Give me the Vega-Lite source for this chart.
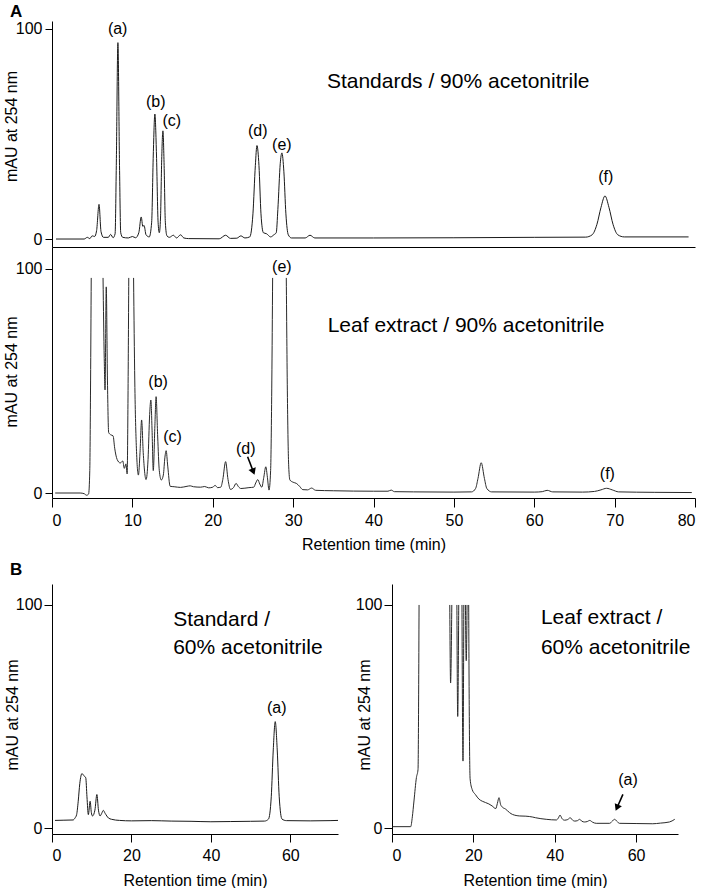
{
  "$schema": "https://vega.github.io/schema/vega-lite/v6.json",
  "background": "white",
  "padding": {"left": 3, "top": 2, "right": 0, "bottom": 0},
  "config": {
    "view": {"stroke": null},
    "font": "Liberation Sans",
    "axis": {"grid": false, "domainColor": "#000", "tickColor": "#000", "labelColor": "#000", "titleColor": "#000", "labelFontSize": 16, "titleFontSize": 16, "titleFontWeight": "normal", "labelFont": "Liberation Sans", "titleFont": "Liberation Sans", "domainWidth": 1, "tickWidth": 1},
    "text": {"font": "Liberation Sans", "color": "#000"},
    "title": {"font": "Liberation Sans", "color": "#000"}
  },
  "datasets": {
    "std90": [
      {"t":0.5,"v":0},{"t":4.0,"v":0},{"t":4.4,"v":0.8},{"t":4.7,"v":0.2},{"t":5.0,"v":1.5},{"t":5.3,"v":1.2},{"t":5.55,"v":4},{"t":5.85,"v":16.5},{"t":6.1,"v":3.5},{"t":6.4,"v":0.8},{"t":7.0,"v":0.8},{"t":7.3,"v":2.2},{"t":7.6,"v":0.6},{"t":7.85,"v":2.5},{"t":8.0,"v":35},{"t":8.2,"v":93.5},{"t":8.4,"v":35},{"t":8.55,"v":3},{"t":8.8,"v":0.8},{"t":9.5,"v":0.5},{"t":10.0,"v":1.2},{"t":10.4,"v":0.6},{"t":10.8,"v":3},{"t":11.1,"v":10.5},{"t":11.3,"v":6},{"t":11.45,"v":6.5},{"t":11.7,"v":2},{"t":12.1,"v":1},{"t":12.4,"v":8},{"t":12.6,"v":40},{"t":12.8,"v":59.5},{"t":13.0,"v":40},{"t":13.2,"v":8},{"t":13.35,"v":3},{"t":13.5,"v":10},{"t":13.65,"v":38},{"t":13.8,"v":51.5},{"t":13.95,"v":35},{"t":14.1,"v":8},{"t":14.3,"v":1.5},{"t":14.6,"v":0.8},{"t":15.1,"v":1.8},{"t":15.5,"v":0.5},{"t":16.0,"v":2},{"t":16.4,"v":0.5},{"t":17.0,"v":0.2},{"t":20.8,"v":0.1},{"t":21.6,"v":1.8},{"t":22.2,"v":0.3},{"t":23.0,"v":0.4},{"t":23.5,"v":1.5},{"t":24.0,"v":0.5},{"t":24.6,"v":1},{"t":25.0,"v":12},{"t":25.3,"v":35},{"t":25.5,"v":44.5},{"t":25.75,"v":35},{"t":26.0,"v":12},{"t":26.3,"v":3},{"t":26.7,"v":2.5},{"t":27.2,"v":1},{"t":27.6,"v":2},{"t":27.9,"v":3},{"t":28.1,"v":14},{"t":28.4,"v":36},{"t":28.6,"v":41},{"t":28.85,"v":32},{"t":29.1,"v":12},{"t":29.4,"v":2},{"t":29.8,"v":0.5},{"t":31.5,"v":0.5},{"t":32.1,"v":1.8},{"t":32.7,"v":0.5},{"t":40,"v":0.5},{"t":50,"v":0.6},{"t":60,"v":0.8},{"t":66.4,"v":0.9},{"t":67.2,"v":2},{"t":67.8,"v":7},{"t":68.3,"v":15},{"t":68.8,"v":20.5},{"t":69.3,"v":15},{"t":69.8,"v":7},{"t":70.4,"v":2},{"t":71.2,"v":1},{"t":79.2,"v":1}
    ],
    "leaf90": [
      {"s":1,"t":0.4,"v":0},{"s":1,"t":3.5,"v":0},{"s":1,"t":4.0,"v":-0.3},{"s":1,"t":4.3,"v":-1},{"s":1,"t":4.55,"v":-0.5},{"s":1,"t":4.7,"v":10},{"s":1,"t":4.8,"v":50},{"s":1,"t":4.88,"v":96},
      {"s":2,"t":6.35,"v":96},{"s":2,"t":6.5,"v":60},{"s":2,"t":6.6,"v":46},{"s":2,"t":6.75,"v":92},{"s":2,"t":6.9,"v":50},{"s":2,"t":7.05,"v":27},{"s":2,"t":7.3,"v":26},{"s":2,"t":7.6,"v":25.5},{"s":2,"t":7.8,"v":20},{"s":2,"t":8.1,"v":15},{"s":2,"t":8.5,"v":13.4},{"s":2,"t":8.8,"v":14.3},{"s":2,"t":9.0,"v":11},{"s":2,"t":9.2,"v":13},{"s":2,"t":9.35,"v":8.5},{"s":2,"t":9.45,"v":40},{"s":2,"t":9.55,"v":96},
      {"s":3,"t":10.15,"v":96},{"s":3,"t":10.3,"v":50},{"s":3,"t":10.5,"v":20},{"s":3,"t":10.75,"v":8},{"s":3,"t":10.95,"v":18},{"s":3,"t":11.15,"v":32.6},{"s":3,"t":11.35,"v":18},{"s":3,"t":11.7,"v":6},{"s":3,"t":11.95,"v":15},{"s":3,"t":12.15,"v":35},{"s":3,"t":12.3,"v":41.5},{"s":3,"t":12.45,"v":28},{"s":3,"t":12.6,"v":10},{"s":3,"t":12.8,"v":30},{"s":3,"t":12.95,"v":43},{"s":3,"t":13.15,"v":25},{"s":3,"t":13.35,"v":10},{"s":3,"t":13.6,"v":5.8},{"s":3,"t":13.85,"v":8},{"s":3,"t":14.05,"v":16},{"s":3,"t":14.2,"v":18.9},{"s":3,"t":14.4,"v":12},{"s":3,"t":14.7,"v":3},{"s":3,"t":15.2,"v":2.8},{"s":3,"t":16,"v":2.5},{"s":3,"t":16.8,"v":3},{"s":3,"t":17.2,"v":3.2},{"s":3,"t":17.6,"v":2.8},{"s":3,"t":18.5,"v":2.6},{"s":3,"t":19.0,"v":2.9},{"s":3,"t":19.5,"v":2.3},{"s":3,"t":20.0,"v":2.6},{"s":3,"t":20.3,"v":3.4},{"s":3,"t":20.6,"v":2.4},{"s":3,"t":21.0,"v":2.6},{"s":3,"t":21.25,"v":6},{"s":3,"t":21.6,"v":14},{"s":3,"t":21.9,"v":6},{"s":3,"t":22.2,"v":1.6},{"s":3,"t":22.6,"v":2.5},{"s":3,"t":22.9,"v":4.3},{"s":3,"t":23.2,"v":2.8},{"s":3,"t":23.5,"v":2},{"s":3,"t":24.5,"v":2.4},{"s":3,"t":25.1,"v":2.6},{"s":3,"t":25.35,"v":4.5},{"s":3,"t":25.6,"v":6},{"s":3,"t":25.85,"v":4},{"s":3,"t":26.1,"v":2.6},{"s":3,"t":26.35,"v":7},{"s":3,"t":26.6,"v":11.7},{"s":3,"t":26.8,"v":7},{"s":3,"t":27.0,"v":1.3},{"s":3,"t":27.2,"v":10},{"s":3,"t":27.35,"v":50},{"s":3,"t":27.45,"v":96},
      {"s":4,"t":29.15,"v":96},{"s":4,"t":29.3,"v":40},{"s":4,"t":29.45,"v":12},{"s":4,"t":29.6,"v":5.8},{"s":4,"t":30.0,"v":4.8},{"s":4,"t":30.4,"v":4.3},{"s":4,"t":30.8,"v":3},{"s":4,"t":31.2,"v":1.5},{"s":4,"t":31.8,"v":1.4},{"s":4,"t":32.3,"v":2.2},{"s":4,"t":32.8,"v":1.2},{"s":4,"t":35,"v":1},{"s":4,"t":40,"v":0.8},{"s":4,"t":41.8,"v":0.8},{"s":4,"t":42.2,"v":1.3},{"s":4,"t":42.6,"v":0.6},{"s":4,"t":45,"v":0.5},{"s":4,"t":50,"v":0.4},{"s":4,"t":52.2,"v":0.5},{"s":4,"t":52.7,"v":2},{"s":4,"t":53.0,"v":6.5},{"s":4,"t":53.4,"v":13.5},{"s":4,"t":53.8,"v":6.5},{"s":4,"t":54.1,"v":2},{"s":4,"t":54.7,"v":0.5},{"s":4,"t":60,"v":0.4},{"s":4,"t":61.0,"v":0.6},{"s":4,"t":61.6,"v":1.2},{"s":4,"t":62.3,"v":0.5},{"s":4,"t":66,"v":0.4},{"s":4,"t":67.5,"v":0.7},{"s":4,"t":68.3,"v":1.4},{"s":4,"t":69.0,"v":2.1},{"s":4,"t":69.7,"v":1.4},{"s":4,"t":70.5,"v":0.5},{"s":4,"t":75,"v":0.3},{"s":4,"t":79.6,"v":0.2}
    ],
    "std60": [
      {"t":0.75,"v":3.4},{"t":3,"v":3.5},{"t":5.3,"v":3.6},{"t":5.8,"v":4.5},{"t":6.2,"v":6},{"t":6.6,"v":12},{"t":7.0,"v":20},{"t":7.55,"v":24.4},{"t":8.0,"v":23.5},{"t":8.5,"v":22.5},{"t":8.8,"v":14},{"t":9.15,"v":6},{"t":9.6,"v":12},{"t":9.9,"v":7},{"t":10.2,"v":5.4},{"t":10.8,"v":8},{"t":11.3,"v":15},{"t":11.7,"v":8},{"t":12.1,"v":5.4},{"t":12.5,"v":6.5},{"t":12.9,"v":7.9},{"t":13.4,"v":6.5},{"t":14.2,"v":4.5},{"t":15,"v":3.9},{"t":17,"v":3.4},{"t":20,"v":3.2},{"t":25,"v":3.3},{"t":30,"v":3.1},{"t":35,"v":3.0},{"t":40,"v":2.8},{"t":45,"v":2.9},{"t":50,"v":3.0},{"t":53.5,"v":3.1},{"t":54.5,"v":4},{"t":55.2,"v":14},{"t":55.7,"v":35},{"t":56.2,"v":47.7},{"t":56.7,"v":35},{"t":57.2,"v":14},{"t":57.9,"v":4},{"t":59,"v":3.3},{"t":65,"v":3.2},{"t":70,"v":3.3},{"t":72,"v":3.4}
    ],
    "leaf60": [
      {"s":1,"t":0.1,"v":0.6},{"s":1,"t":4.6,"v":0.6},{"s":1,"t":5.0,"v":5},{"s":1,"t":5.4,"v":12.1},{"s":1,"t":6.0,"v":22.6},{"s":1,"t":6.4,"v":26.3},{"s":1,"t":6.55,"v":60},{"s":1,"t":6.65,"v":100},
      {"s":2,"t":14.2,"v":100},{"s":2,"t":14.4,"v":65},{"s":2,"t":14.7,"v":100},
      {"s":3,"t":15.95,"v":100},{"s":3,"t":16.15,"v":50},{"s":3,"t":16.4,"v":100},
      {"s":4,"t":17.2,"v":100},{"s":4,"t":17.45,"v":30},{"s":4,"t":17.65,"v":100},
      {"s":5,"t":18.05,"v":100},{"s":5,"t":18.25,"v":75},{"s":5,"t":18.45,"v":100},
      {"s":6,"t":18.85,"v":100},{"s":6,"t":19.0,"v":50},{"s":6,"t":19.2,"v":22},{"s":6,"t":19.7,"v":17.3},{"s":6,"t":20.5,"v":15},{"s":6,"t":21.4,"v":12.9},{"s":6,"t":22.2,"v":12},{"s":6,"t":23.0,"v":11.4},{"s":6,"t":23.8,"v":10.8},{"s":6,"t":24.6,"v":9.9},{"s":6,"t":25.5,"v":8.7},{"s":6,"t":25.9,"v":11},{"s":6,"t":26.3,"v":13.6},{"s":6,"t":26.7,"v":10.5},{"s":6,"t":27.1,"v":9.4},{"s":6,"t":27.9,"v":8.5},{"s":6,"t":28.9,"v":6.9},{"s":6,"t":29.6,"v":6.1},{"s":6,"t":31.4,"v":5.4},{"s":6,"t":32.9,"v":5.3},{"s":6,"t":34.6,"v":4.9},{"s":6,"t":35.3,"v":4.6},{"s":6,"t":37.9,"v":3.9},{"s":6,"t":40.4,"v":3.6},{"s":6,"t":40.9,"v":4.5},{"s":6,"t":41.3,"v":5.8},{"s":6,"t":41.8,"v":4.2},{"s":6,"t":42.4,"v":3.5},{"s":6,"t":43.2,"v":3.8},{"s":6,"t":43.8,"v":4.6},{"s":6,"t":44.4,"v":3.5},{"s":6,"t":44.9,"v":3.1},{"s":6,"t":45.6,"v":3.3},{"s":6,"t":46.1,"v":3.9},{"s":6,"t":46.7,"v":3.0},{"s":6,"t":47.3,"v":2.7},{"s":6,"t":48.0,"v":2.9},{"s":6,"t":48.6,"v":3.4},{"s":6,"t":49.3,"v":2.6},{"s":6,"t":50.2,"v":2.1},{"s":6,"t":53.5,"v":2.1},{"s":6,"t":54.1,"v":3},{"s":6,"t":54.7,"v":3.9},{"s":6,"t":55.3,"v":3},{"s":6,"t":55.9,"v":2.1},{"s":6,"t":60,"v":2.0},{"s":6,"t":64.1,"v":1.9},{"s":6,"t":66,"v":2.2},{"s":6,"t":68.2,"v":2.7},{"s":6,"t":69.5,"v":3.9}
    ],
    "labA1": [{"t":8.17,"v":100,"label":"(a)"},{"t":12.9,"v":65.4,"label":"(b)"},{"t":14.9,"v":56.3,"label":"(c)"},{"t":25.6,"v":51.4,"label":"(d)"},{"t":28.6,"v":44.8,"label":"(e)"},{"t":68.9,"v":29.3,"label":"(f)"}],
    "noteA1": [{"t":34.2,"v":71.9,"label":"Standards / 90% acetonitrile"}],
    "labA2": [{"t":28.6,"v":101,"label":"(e)"},{"t":13.2,"v":49.7,"label":"(b)"},{"t":15.0,"v":25,"label":"(c)"},{"t":24.1,"v":19.6,"label":"(d)"},{"t":69.1,"v":8.5,"label":"(f)"}],
    "noteA2": [{"t":34.3,"v":72,"label":"Leaf extract / 90% acetonitrile"}],
    "arrA2": [{"t":24.34,"v":16.2,"t2":25.05,"v2":9.5}],
    "headA2": [{"t":25.05,"v":9.5}],
    "labB1": [{"t":56.6,"v":53.8,"label":"(a)"}],
    "noteB1": [{"t":30.5,"v":90.6,"label":"Standard /"},{"t":30.5,"v":78,"label":"60% acetonitrile"}],
    "labB2": [{"t":58.0,"v":21.7,"label":"(a)"}],
    "noteB2": [{"t":36.6,"v":91.3,"label":"Leaf extract /"},{"t":36.6,"v":78,"label":"60% acetonitrile"}],
    "arrB2": [{"t":56.76,"v":15.1,"t2":55.3,"v2":9.06}],
    "headB2": [{"t":55.3,"v":9.06}]
  },
  "vconcat": [
    {
      "vconcat": [
        {
          "width": 643, "height": 226,
          "title": {"text": "A", "anchor": "start", "frame": "group", "dx": -42, "offset": -13, "baseline": "alphabetic", "fontSize": 17, "fontWeight": "bold"},
          "encoding": {
            "x": {"field": "t", "type": "quantitative", "scale": {"domain": [0, 80], "nice": false, "zero": false}, "axis": {"ticks": false, "labels": false, "title": null}},
            "y": {"field": "v", "type": "quantitative", "scale": {"domain": [-3.8, 103.8], "nice": false, "zero": false}, "axis": {"values": [0, 100], "tickSize": 7, "labelPadding": 3, "title": "mAU at 254 nm", "titleX": -36, "titleY": 105, "titleBaseline": "alphabetic"}}
          },
          "layer": [
            {"data": {"name": "std90"}, "mark": {"type": "line", "interpolate": "monotone", "color": "#1a1a1a", "strokeWidth": 1}},
            {"data": {"name": "labA1"}, "mark": {"type": "text", "fontSize": 16, "baseline": "middle"}, "encoding": {"text": {"field": "label"}}},
            {"data": {"name": "noteA1"}, "mark": {"type": "text", "fontSize": 21, "align": "left", "baseline": "alphabetic"}, "encoding": {"text": {"field": "label"}}}
          ]
        },
        {
          "width": 643, "height": 251,
          "encoding": {
            "x": {"field": "t", "type": "quantitative", "scale": {"domain": [0, 80], "nice": false, "zero": false}, "axis": {"values": [0, 10, 20, 30, 40, 50, 60, 70, 80], "tickSize": 9, "labelPadding": 5, "title": "Retention time (min)", "titleY": 51, "titleBaseline": "alphabetic"}},
            "y": {"field": "v", "type": "quantitative", "scale": {"domain": [-2.23, 109.8], "nice": false, "zero": false}, "axis": {"values": [0, 100], "tickSize": 7, "labelPadding": 3, "title": "mAU at 254 nm", "titleX": -36, "titleY": 124.5, "titleBaseline": "alphabetic"}}
          },
          "layer": [
            {"data": {"name": "leaf90"}, "mark": {"type": "line", "interpolate": "monotone", "color": "#2a2a2a", "strokeWidth": 1}, "encoding": {"detail": {"field": "s", "type": "nominal"}}},
            {"data": {"name": "labA2"}, "mark": {"type": "text", "fontSize": 16, "baseline": "middle"}, "encoding": {"text": {"field": "label"}}},
            {"data": {"name": "noteA2"}, "mark": {"type": "text", "fontSize": 21, "align": "left", "baseline": "alphabetic"}, "encoding": {"text": {"field": "label"}}},
            {"data": {"name": "arrA2"}, "mark": {"type": "rule", "color": "#000", "strokeWidth": 1.6}, "encoding": {"x2": {"field": "t2"}, "y2": {"field": "v2"}}},
            {"data": {"name": "headA2"}, "mark": {"type": "point", "shape": "triangle-down", "filled": true, "color": "#000", "size": 60, "angle": 339, "opacity": 1}}
          ]
        }
      ],
      "spacing": 0,
      "bounds": "flush"
    },
    {
      "hconcat": [
        {
          "width": 286, "height": 250,
          "title": {"text": "B", "anchor": "start", "frame": "group", "dx": -42, "offset": -8, "baseline": "alphabetic", "fontSize": 17, "fontWeight": "bold"},
          "encoding": {
            "x": {"field": "t", "type": "quantitative", "scale": {"domain": [0, 72], "nice": false, "zero": false}, "axis": {"values": [0, 20, 40, 60], "tickSize": 8, "labelPadding": 5, "title": "Retention time (min)", "titleY": 51, "titleBaseline": "alphabetic"}},
            "y": {"field": "v", "type": "quantitative", "scale": {"domain": [-2.69, 109.4], "nice": false, "zero": false}, "axis": {"values": [0, 100], "tickSize": 8, "labelPadding": 2, "title": "mAU at 254 nm", "titleX": -35, "titleY": 130.5, "titleBaseline": "alphabetic"}}
          },
          "layer": [
            {"data": {"name": "std60"}, "mark": {"type": "line", "interpolate": "monotone", "color": "#1a1a1a", "strokeWidth": 1}},
            {"data": {"name": "labB1"}, "mark": {"type": "text", "fontSize": 16, "baseline": "middle"}, "encoding": {"text": {"field": "label"}}},
            {"data": {"name": "noteB1"}, "mark": {"type": "text", "fontSize": 21, "align": "left", "baseline": "alphabetic"}, "encoding": {"text": {"field": "label"}}}
          ]
        },
        {
          "width": 286, "height": 250,
          "encoding": {
            "x": {"field": "t", "type": "quantitative", "scale": {"domain": [0, 70.3], "nice": false, "zero": false}, "axis": {"values": [0, 20, 40, 60], "tickSize": 8, "labelPadding": 5, "title": "Retention time (min)", "titleY": 51, "titleBaseline": "alphabetic"}},
            "y": {"field": "v", "type": "quantitative", "scale": {"domain": [-2.69, 109.4], "nice": false, "zero": false}, "axis": {"values": [0, 100], "tickSize": 8, "labelPadding": 2, "title": "mAU at 254 nm", "titleX": -22.5, "titleY": 130.5, "titleBaseline": "alphabetic"}}
          },
          "layer": [
            {"data": {"name": "leaf60"}, "mark": {"type": "line", "interpolate": "monotone", "color": "#2a2a2a", "strokeWidth": 1}, "encoding": {"detail": {"field": "s", "type": "nominal"}}},
            {"data": {"name": "labB2"}, "mark": {"type": "text", "fontSize": 16, "baseline": "middle"}, "encoding": {"text": {"field": "label"}}},
            {"data": {"name": "noteB2"}, "mark": {"type": "text", "fontSize": 21, "align": "left", "baseline": "alphabetic"}, "encoding": {"text": {"field": "label"}}},
            {"data": {"name": "arrB2"}, "mark": {"type": "rule", "color": "#000", "strokeWidth": 1.6}, "encoding": {"x2": {"field": "t2"}, "y2": {"field": "v2"}}},
            {"data": {"name": "headB2"}, "mark": {"type": "point", "shape": "triangle-down", "filled": true, "color": "#000", "size": 60, "angle": 23.6, "opacity": 1}}
          ]
        }
      ],
      "spacing": 54,
      "bounds": "flush",
      "resolve": {"scale": {"x": "independent", "y": "independent"}}
    }
  ],
  "spacing": 9,
  "bounds": "full"
}
